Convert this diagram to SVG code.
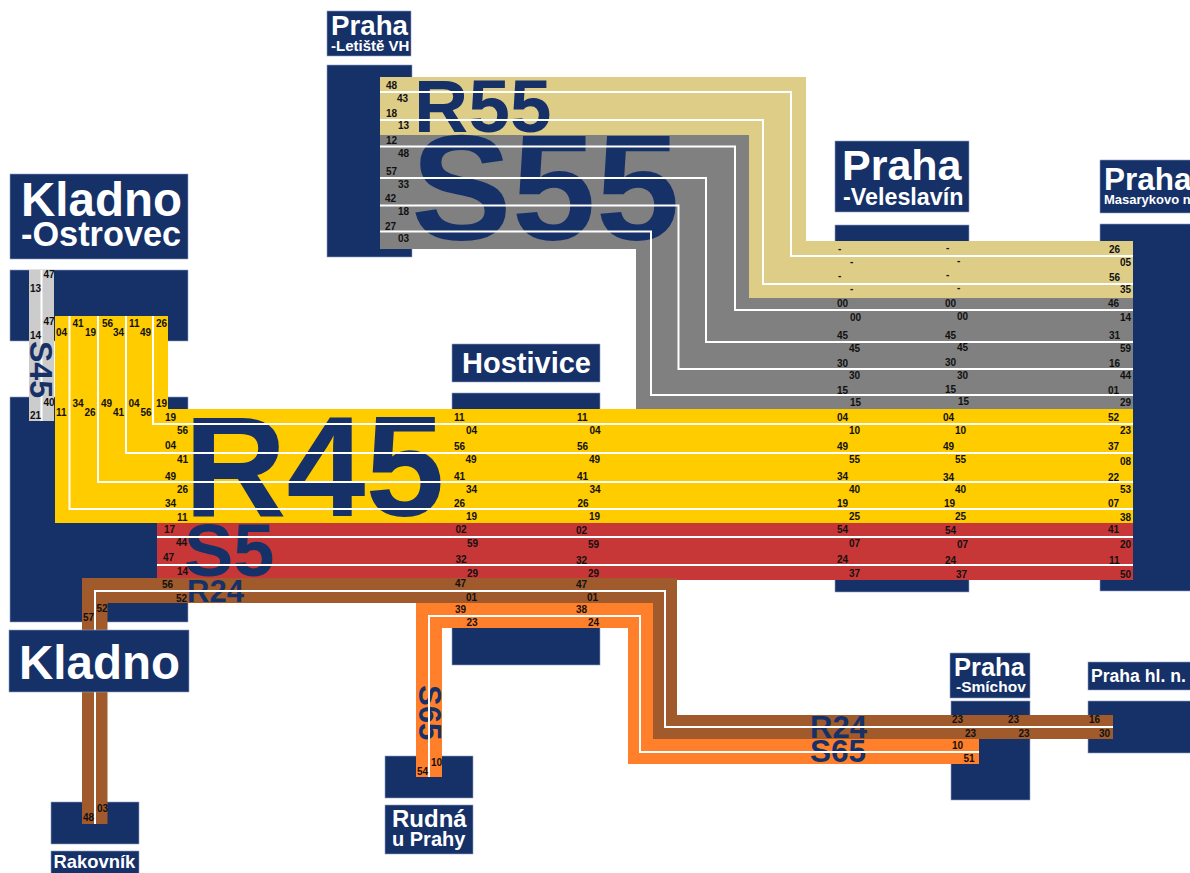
<svg xmlns="http://www.w3.org/2000/svg" width="1190" height="873" viewBox="0 0 1190 873">
<style>
text{font-family:"Liberation Sans",Arial,sans-serif;font-weight:700}
.st{fill:#163068;stroke:#8fa0c4;stroke-width:.6}
.nm text{fill:#fff}
.ln{fill:#163068}
.w{fill:none;stroke:#fff;stroke-width:2}
.t text{font-size:10px;fill:#111}
</style>
<rect width="1190" height="873" fill="#fff"/>
<g id="node-kladno-ostrovec" class="nm"><rect class="st" x="10" y="174" width="178" height="85"/><rect class="st" x="10" y="270" width="178" height="71"/><rect class="st" x="10" y="397" width="178" height="225"/><text x="21" y="216" font-size="47.500">Kladno</text><text x="21" y="246" font-size="34.300">-Ostrovec</text></g>
<g id="node-praha-letiste" class="nm"><rect class="st" x="327" y="11" width="84" height="45"/><rect class="st" x="327" y="65" width="85" height="192"/><text x="331" y="35" font-size="27.700">Praha</text><text x="331" y="51" font-size="15">-Letiště VH</text></g>
<g id="node-praha-veleslavin" class="nm"><rect class="st" x="835" y="141" width="134" height="71"/><rect class="st" x="835" y="225" width="134" height="367"/><text x="842" y="180" font-size="43">Praha</text><text x="843" y="205" font-size="23.300">-Veleslavín</text></g>
<g id="node-praha-masarykovo" class="nm"><rect class="st" x="1100" y="160" width="91" height="53"/><rect class="st" x="1100" y="224" width="91" height="367"/><text x="1104" y="190" font-size="31.500">Praha</text><text x="1104" y="204" font-size="13">Masarykovo n.</text></g>
<g id="node-hostivice" class="nm"><rect class="st" x="452" y="344" width="148" height="38"/><rect class="st" x="452" y="393" width="148" height="272"/><text x="462" y="373" font-size="29">Hostivice</text></g>
<g id="node-praha-smichov" class="nm"><rect class="st" x="950" y="653" width="80" height="45"/><rect class="st" x="951" y="701" width="79" height="99"/><text x="954" y="676" font-size="25.500">Praha</text><text x="956" y="692" font-size="15.500">-Smíchov</text></g>
<g id="node-praha-hl-n" class="nm"><rect class="st" x="1088" y="662" width="103" height="28"/><rect class="st" x="1088" y="701" width="103" height="52"/><text x="1091" y="682" font-size="17.600">Praha hl. n.</text></g>
<g id="node-rakovnik" class="nm"><rect class="st" x="51" y="802" width="88" height="42"/><rect class="st" x="51" y="851" width="88" height="23"/><text x="53.500" y="868" font-size="18.400">Rakovník</text></g>
<g id="node-rudna" class="nm"><rect class="st" x="385" y="756" width="88" height="42"/><rect class="st" x="385" y="805" width="88" height="49"/><text x="392" y="827" font-size="24">Rudná</text><text x="392" y="846" font-size="20">u Prahy</text></g>
<g id="connectors">
<path fill="#decd87" d="M380 77H806V241H1133V298H749V135H380Z"/>
<path fill="#808080" d="M380 135H749V298H1133V409H636V249H380Z"/>
<path fill="#ffcc00" d="M55 316H168V409H1133V523H55Z"/>
<path fill="#c83737" d="M157 523H1133V580H157Z"/>
<path fill="#ff7f2a" d="M416 603H653V739H979V764H628V628H442V777H416Z"/>
<path fill="#a05a2c" d="M82 578H677V715H1113V739H653V603H107.500V824H82Z"/>
<path fill="#ccc" d="M29 270H54V421H29Z"/>
<text class="ln" x="414" y="132" font-size="75">R55</text>
<text class="ln" x="411" y="240" font-size="151">S55</text>
<text class="ln" x="184" y="516" font-size="142">R45</text>
<text class="ln" x="184" y="576" font-size="74">S5</text>
<text class="ln" x="187" y="602" font-size="31">R24</text>
<text class="ln" x="810" y="738" font-size="31">R24</text>
<text class="ln" x="810" y="762" font-size="31.500">S65</text>
<text class="ln" font-size="31" transform="translate(419 685) rotate(90)">S65</text>
<g class="w">
<path d="M380 92H791V256H1133"/><path d="M380 120H763V284H1133"/>
<path d="M380 146.500H735V310H1133"/><path d="M380 178H706V342H1133"/><path d="M380 205.500H678.500V369H1133"/><path d="M380 231.500H651V395H1133"/>
<path d="M153 316V424H1133"/><path d="M126 316V453H1133"/><path d="M98 316V482H1133"/><path d="M69.500 316V509H1133"/>
<path d="M157 537H1133"/><path d="M157 565H1133"/>
<path d="M95 824V591H665V727H1113"/>
<path d="M429 777V616H640V752H979"/>
<path d="M41.500 270V421"/>
</g>
<text class="ln" font-size="32" transform="translate(30 341) rotate(90)">S45</text>
</g>
<g id="node-kladno" class="nm"><rect class="st" x="9" y="630" width="180" height="62"/><text x="19" y="679" font-size="47.500">Kladno</text></g>
<g id="times" class="t">
<text x="30" y="292">13</text><text x="43.500" y="278">47</text><text x="43.500" y="325">47</text><text x="30" y="339">14</text><text x="43.500" y="406">40</text><text x="30" y="419">21</text>
<text x="56" y="336">04</text><text x="72.500" y="327">41</text><text x="85" y="336">19</text><text x="102" y="327">56</text><text x="113" y="336">34</text><text x="129" y="327">11</text><text x="140" y="336">49</text><text x="156" y="327">26</text>
<text x="56" y="416">11</text><text x="72.500" y="407">34</text><text x="84.500" y="416">26</text><text x="101" y="407">49</text><text x="113" y="416">41</text><text x="128.500" y="407">04</text><text x="140.500" y="416">56</text><text x="156" y="407">19</text>
<text x="165" y="421">19</text><text x="177" y="434">56</text><text x="165" y="449">04</text><text x="177" y="463">41</text><text x="165" y="480">49</text><text x="177" y="493">26</text><text x="165" y="507">34</text><text x="177" y="521">11</text>
<text x="164" y="533">17</text><text x="176" y="546">44</text><text x="163" y="561">47</text><text x="177" y="575">14</text><text x="162" y="588">56</text><text x="176" y="602">52</text><text x="83" y="621">57</text><text x="96.500" y="612">52</text>
<text x="386" y="89">48</text><text x="397" y="102">43</text><text x="386" y="117">18</text><text x="398" y="129">13</text><text x="386" y="144">12</text><text x="398" y="157">48</text><text x="386" y="175">57</text><text x="398" y="188">33</text><text x="385" y="202">42</text><text x="398" y="215">18</text><text x="385" y="230">27</text><text x="398" y="242">03</text>
<text x="838" y="252">-</text><text x="850" y="265">-</text><text x="838" y="279">-</text><text x="850" y="292">-</text>
<text x="946" y="251">-</text><text x="957" y="264">-</text><text x="946" y="278">-</text><text x="957" y="291">-</text>
<text x="1109" y="253">26</text><text x="1120" y="266">05</text><text x="1109" y="281">56</text><text x="1120" y="293">35</text>
<text x="837" y="307">00</text><text x="850" y="321">00</text><text x="837" y="339">45</text><text x="849" y="352">45</text><text x="837" y="367">30</text><text x="849" y="379">30</text><text x="837" y="394">15</text><text x="850" y="406">15</text>
<text x="945" y="307">00</text><text x="957" y="320">00</text><text x="945" y="339">45</text><text x="957" y="351">45</text><text x="945" y="366">30</text><text x="957" y="379">30</text><text x="945" y="393">15</text><text x="958" y="405">15</text>
<text x="1108" y="307">46</text><text x="1120" y="321">14</text><text x="1109" y="339">31</text><text x="1120" y="352">59</text><text x="1109" y="367">16</text><text x="1120" y="379">44</text><text x="1108" y="394">01</text><text x="1120" y="406">29</text>
<text x="837" y="421">04</text><text x="849" y="434">10</text><text x="837" y="450">49</text><text x="849" y="463">55</text><text x="837" y="480">34</text><text x="849" y="493">40</text><text x="837" y="507">19</text><text x="849" y="520">25</text><text x="837" y="533">54</text><text x="849" y="547">07</text><text x="837" y="563">24</text><text x="849" y="577">37</text>
<text x="943" y="421">04</text><text x="955" y="434">10</text><text x="943" y="450">49</text><text x="955" y="463">55</text><text x="943" y="481">34</text><text x="955" y="493">40</text><text x="944" y="507">19</text><text x="955" y="520">25</text><text x="945" y="534">54</text><text x="957" y="548">07</text><text x="945" y="564">24</text><text x="956" y="578">37</text>
<text x="1108" y="421">52</text><text x="1120" y="434">23</text><text x="1108" y="450">37</text><text x="1120" y="465">08</text><text x="1108" y="481">22</text><text x="1120" y="493">53</text><text x="1108" y="507">07</text><text x="1120" y="521">38</text><text x="1108" y="533">41</text><text x="1120" y="548">20</text><text x="1109" y="564">11</text><text x="1120" y="578">50</text>
<text x="454" y="421">11</text><text x="466" y="434">04</text><text x="454" y="450">56</text><text x="465.500" y="463">49</text><text x="454" y="480">41</text><text x="466" y="493">34</text><text x="454" y="507">26</text><text x="466" y="520">19</text><text x="455.500" y="533">02</text><text x="467" y="547">59</text><text x="455.500" y="563">32</text><text x="467" y="577">29</text><text x="455" y="587">47</text><text x="466" y="601">01</text><text x="455" y="613">39</text><text x="466.500" y="626">23</text>
<text x="577" y="421">11</text><text x="589.500" y="434">04</text><text x="577" y="450">56</text><text x="589" y="463">49</text><text x="577" y="480">41</text><text x="589.500" y="493">34</text><text x="577.500" y="507">26</text><text x="589" y="520">19</text><text x="576" y="534">02</text><text x="588" y="548">59</text><text x="576" y="564">32</text><text x="588" y="577">29</text><text x="576" y="588">47</text><text x="587" y="601">01</text><text x="576" y="613">38</text><text x="588" y="626">24</text>
<text x="952" y="723">23</text><text x="1008" y="723">23</text><text x="1089" y="723">16</text><text x="965" y="737">23</text><text x="1018.500" y="737">23</text><text x="1099" y="737">30</text><text x="952" y="749">10</text><text x="963.500" y="762">51</text>
<text x="83" y="821">48</text><text x="97" y="812">03</text><text x="417" y="775">54</text><text x="431" y="766">10</text>
</g>
</svg>
